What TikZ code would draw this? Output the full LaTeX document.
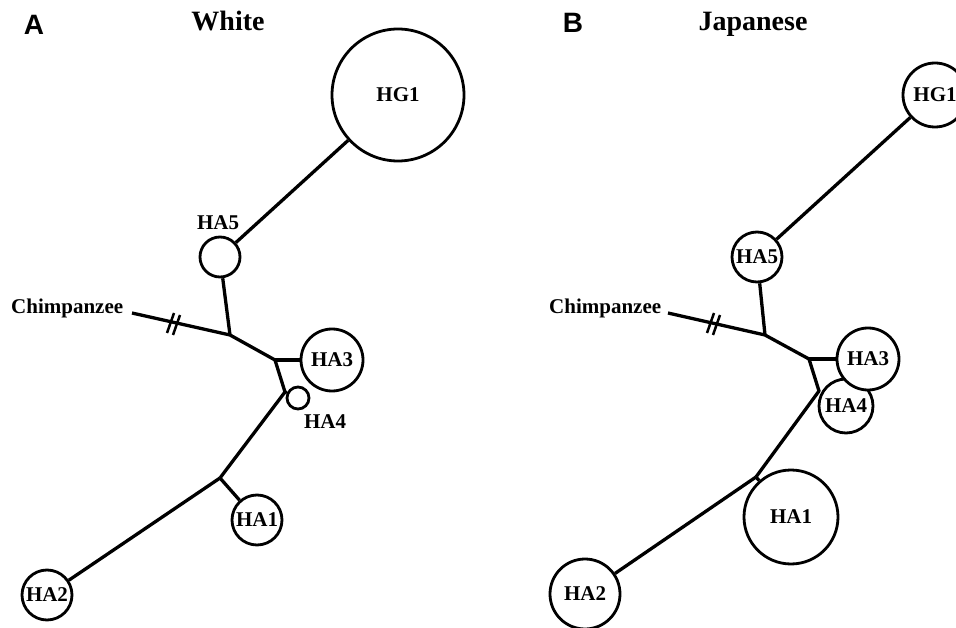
\documentclass[tikz,border=0pt]{standalone}
\usepackage{fontspec}
\setmainfont{Liberation Serif}
\newfontfamily\labfont{Liberation Sans}
\usetikzlibrary{calc}
\begin{document}
\begin{tikzpicture}[x=1pt,y=-1pt,
  hap/.style={circle,draw,line width=2.8pt,fill=white,inner sep=0pt,font=\bfseries\fontsize{21}{24}\selectfont},
  txt/.style={font=\bfseries\fontsize{21}{24}\selectfont,inner sep=0pt,anchor=base},
  ttl/.style={font=\bfseries\fontsize{28}{32}\selectfont,inner sep=0pt,anchor=base},
  pnl/.style={font=\labfont\bfseries\fontsize{28}{32}\selectfont,inner sep=0pt,anchor=base},
  br/.style={line width=3.3pt},
  hashmark/.style={line width=2.5pt}]
\clip (0,0) rectangle (956,628);
% ---------------- Panel A ----------------
\node[pnl] (pA) at (34,35) {A};
\node[ttl] (tA) at (228,31) {White};
\node[hap,minimum size=132pt] (HG1A) at (398,95) {HG1};
\node[hap,minimum size=40pt] (HA5A) at (220,257) {};
\node[txt] (lHA5A) at (218,230) {HA5};
\node[hap,minimum size=62pt] (HA3A) at (332,360) {HA3};
\node[hap,minimum size=22pt] (HA4A) at (298,398) {};
\node[txt] (lHA4A) at (325,428) {HA4};
\node[hap,minimum size=50pt] (HA1A) at (257,520) {HA1};
\node[hap,minimum size=50pt] (HA2A) at (47,595) {HA2};
\node[txt,anchor=base west] (chA) at (11,314) {Chimpanzee};
\coordinate (cA) at (132,313);
\coordinate (J1A) at (230,335);
\coordinate (J2A) at (275,360);
\coordinate (J3A) at (285,392);
\coordinate (J4A) at (220,478);
\coordinate (hA) at (173.5,324);
\draw[br] (HG1A) -- (HA5A);
\draw[br] (HA5A) -- (J1A);
\draw[br,line join=bevel] (cA) -- (J1A) -- (J2A) -- (J3A) -- (J4A);
\draw[br] (J2A) -- (HA3A);
\draw[br] (J3A) -- (HA4A);
\draw[br] (J4A) -- (HA1A);
\draw[br] (J4A) -- (HA2A);
\draw[hashmark] ($(hA)+(-6.5,9)$) -- ($(hA)+(0.5,-11)$);
\draw[hashmark] ($(hA)+(-0.5,11)$) -- ($(hA)+(6.5,-9)$);
% ---------------- Panel B ----------------
\node[pnl] (pB) at (573,33) {B};
\node[ttl] (tB) at (753,31) {Japanese};
\node[hap,minimum size=64pt] (HG1B) at (935,95) {HG1};
\node[hap,minimum size=50pt] (HA5B) at (757,257) {HA5};
\node[hap,minimum size=54pt] (HA4B) at (846,406) {HA4};
\node[hap,minimum size=62pt] (HA3B) at (868,359) {HA3};
\node[hap,minimum size=94pt] (HA1B) at (791,517) {HA1};
\node[hap,minimum size=70pt] (HA2B) at (585,594) {HA2};
\node[txt,anchor=base west] (chB) at (549,314) {Chimpanzee};
\coordinate (cB) at (668,313);
\coordinate (J1B) at (765,335);
\coordinate (J2B) at (809,359);
\coordinate (J3B) at (819,391);
\coordinate (J4B) at (756,477);
\coordinate (hB) at (713.5,324);
\draw[br] (HG1B) -- (HA5B);
\draw[br] (HA5B) -- (J1B);
\draw[br,line join=bevel] (cB) -- (J1B) -- (J2B) -- (J3B) -- (J4B);
\draw[br] (J2B) -- (HA3B);
\draw[br] (J4B) -- (HA1B);
\draw[br] (J4B) -- (HA2B);
\draw[hashmark] ($(hB)+(-6.5,9)$) -- ($(hB)+(0.5,-11)$);
\draw[hashmark] ($(hB)+(-0.5,11)$) -- ($(hB)+(6.5,-9)$);
\end{tikzpicture}
\end{document}
